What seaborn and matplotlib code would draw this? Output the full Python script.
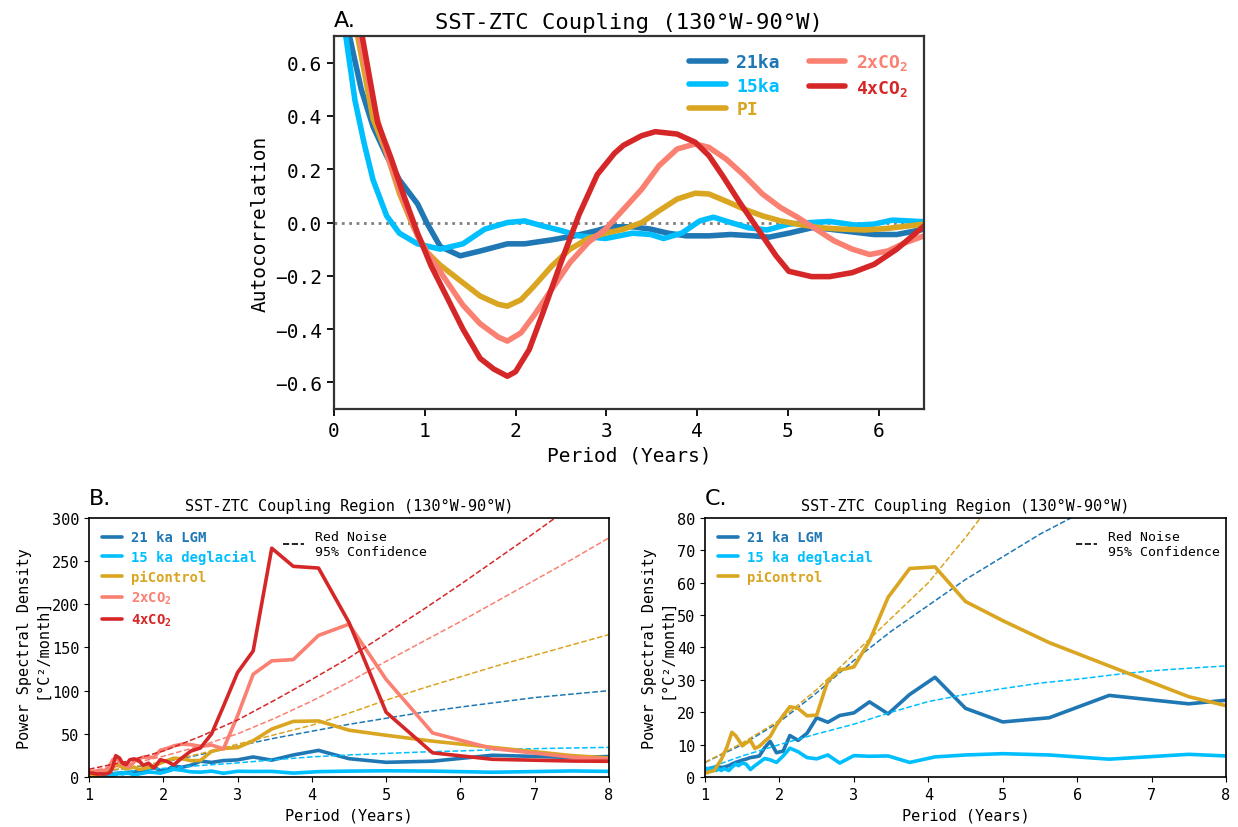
import numpy as np
import pandas as pd
import matplotlib
matplotlib.use("Agg")
import matplotlib.pyplot as plt
from matplotlib.lines import Line2D
import seaborn as sns

# ---- Panel A: autocorrelation (lag in years) ----
acf_21ka_x = [0, 0.08, 0.17, 0.3, 0.43, 0.58, 0.72, 0.92, 1.02, 1.17, 1.39, 1.61, 1.91, 2.1, 2.4,
              2.65, 2.9, 3.04, 3.29, 3.49, 3.68, 3.88, 4.13, 4.37, 4.62, 4.79, 5.01, 5.26, 5.46,
              5.7, 5.95, 6.2, 6.5]
acf_21ka_y = [1.0, 0.86, 0.70, 0.50, 0.36, 0.25, 0.16, 0.07, 0.0, -0.09, -0.125, -0.107, -0.08,
              -0.08, -0.065, -0.05, -0.03, -0.016, -0.016, -0.025, -0.04, -0.05, -0.05, -0.045,
              -0.05, -0.055, -0.04, -0.02, -0.025, -0.035, -0.045, -0.045, -0.025]

acf_15ka_x = [0, 0.07, 0.13, 0.23, 0.33, 0.43, 0.58, 0.72, 0.92, 1.17, 1.42, 1.66, 1.91, 2.1, 2.3,
              2.5, 2.7, 2.99, 3.29, 3.49, 3.63, 3.83, 4.03, 4.18, 4.37, 4.57, 4.77, 5.01, 5.26,
              5.46, 5.75, 5.95, 6.15, 6.5]
acf_15ka_y = [1.0, 0.85, 0.70, 0.46, 0.30, 0.16, 0.025, -0.04, -0.08, -0.10, -0.08, -0.025, 0.0,
              0.006, -0.013, -0.03, -0.05, -0.06, -0.04, -0.045, -0.06, -0.04, 0.006, 0.02, 0.0,
              -0.02, -0.028, -0.006, 0.0, 0.004, -0.01, -0.006, 0.009, 0.003]

acf_pi_x = [0, 0.1, 0.2, 0.26, 0.43, 0.58, 0.72, 0.87, 1.02, 1.17, 1.42, 1.61, 1.81, 1.91, 2.06,
            2.2, 2.4, 2.6, 2.8, 2.99, 3.19, 3.39, 3.58, 3.78, 3.98, 4.13, 4.32, 4.52, 4.72, 4.92,
            5.11, 5.36, 5.61, 5.85, 6.1, 6.5]
acf_pi_y = [1.0, 0.9, 0.77, 0.70, 0.39, 0.26, 0.11, -0.013, -0.11, -0.16, -0.226, -0.276, -0.307,
            -0.314, -0.29, -0.24, -0.163, -0.10, -0.06, -0.04, -0.025, 0.0, 0.044, 0.088, 0.11,
            0.107, 0.08, 0.05, 0.025, 0.006, -0.006, -0.02, -0.025, -0.028, -0.022, -0.006]

acf_2x_x = [0, 0.15, 0.28, 0.45, 0.6, 0.77, 0.92, 1.02, 1.22, 1.42, 1.61, 1.81, 1.91, 2.06, 2.2,
            2.4, 2.6, 2.8, 2.99, 3.19, 3.39, 3.58, 3.78, 3.98, 4.13, 4.32, 4.52, 4.72, 4.92, 5.11,
            5.31, 5.51, 5.71, 5.9, 6.1, 6.3, 6.5]
acf_2x_y = [1.0, 0.88, 0.70, 0.42, 0.24, 0.08, -0.05, -0.11, -0.21, -0.31, -0.38, -0.43, -0.445,
            -0.414, -0.35, -0.25, -0.15, -0.075, -0.025, 0.05, 0.125, 0.213, 0.276, 0.295, 0.282,
            0.238, 0.176, 0.107, 0.056, 0.019, -0.025, -0.069, -0.10, -0.12, -0.107, -0.075, -0.05]

acf_4x_x = [0, 0.15, 0.31, 0.48, 0.63, 0.77, 0.92, 1.07, 1.22, 1.42, 1.61, 1.76, 1.91, 2.0, 2.15,
            2.3, 2.5, 2.7, 2.9, 3.09, 3.19, 3.39, 3.54, 3.78, 3.98, 4.13, 4.28, 4.47, 4.67, 4.87,
            5.01, 5.26, 5.46, 5.71, 5.95, 6.2, 6.5]
acf_4x_y = [1.0, 0.88, 0.70, 0.376, 0.24, 0.10, -0.04, -0.163, -0.264, -0.40, -0.51, -0.55, -0.577,
            -0.56, -0.477, -0.34, -0.15, 0.03, 0.18, 0.26, 0.29, 0.326, 0.341, 0.332, 0.301, 0.251,
            0.176, 0.075, -0.025, -0.125, -0.183, -0.203, -0.203, -0.188, -0.157, -0.10, -0.013]

# ---- Panels B/C: power spectra (period in years) ----
periods = [9.0, 7.5, 6.43, 5.625, 5.0, 4.5, 4.09, 3.75, 3.46, 3.21, 3.0, 2.81, 2.65, 2.5, 2.37,
           2.25, 2.14, 2.05, 1.96, 1.875, 1.8, 1.73, 1.67, 1.61, 1.55, 1.5, 1.45, 1.41, 1.36,
           1.32, 1.29, 1.25, 1.22, 1.18, 1.15, 1.125, 1.1, 1.07, 1.05, 1.02, 1.0]
psd_21ka = [25.9, 22.6, 25.2, 18.3, 17.0, 21.2, 30.8, 25.5, 19.5, 23.2, 19.8, 19.0, 16.9, 18.3, 13.5,
            11.3, 12.8, 8.0, 7.5, 11.0, 9.0, 6.5, 6.2, 6.0, 5.5, 5.2, 4.8, 4.5, 4.0,
            3.5, 3.3, 3.0, 3.0, 3.0, 3.0, 2.8, 2.8, 2.7, 2.6, 2.5, 2.5]
psd_15ka = [5.5, 7.0, 5.5, 6.8, 7.2, 6.8, 6.2, 4.5, 6.5, 6.4, 6.6, 4.3, 6.8, 5.6, 6.0,
            7.8, 8.9, 6.5, 4.5, 5.3, 5.7, 4.5, 3.5, 2.3, 4.0, 4.3, 3.5, 4.0, 3.0,
            2.0, 2.3, 2.6, 2.0, 2.5, 2.0, 2.2, 2.5, 2.3, 2.5, 2.6, 2.7]
psd_pi = [16.5, 24.8, 34.3, 41.5, 48.3, 54.2, 64.9, 64.4, 55.5, 42.0, 34.0, 33.0, 29.7, 19.1, 18.9,
          21.2, 21.7, 19.0, 16.0, 12.5, 11.0, 9.5, 8.8, 11.3, 10.5, 9.6, 11.5, 12.8, 13.8,
          11.0, 9.0, 7.0, 5.5, 4.0, 3.0, 2.0, 1.8, 1.7, 1.5, 1.3, 1.3]
psd_2x = [17.0, 23.0, 33.0, 51.0, 113.0, 177.0, 164.0, 136.0, 134.5, 119.0, 71.0, 32.5, 37.0, 35.5, 37.5,
          38.0, 36.0, 33.0, 31.0, 23.0, 22.5, 23.0, 21.0, 18.0, 12.0, 13.0, 15.0, 18.0, 22.0,
          20.0, 15.0, 10.0, 8.0, 7.0, 7.0, 7.0, 7.0, 6.5, 6.0, 6.0, 6.0]
psd_4x = [17.5, 18.5, 20.5, 28.0, 75.0, 179.0, 242.0, 244.0, 265.0, 146.0, 121.0, 82.0, 50.0, 33.6, 30.0,
          22.0, 14.0, 18.0, 20.0, 10.4, 16.0, 13.5, 19.0, 21.0, 20.0, 14.3, 16.0, 22.0, 24.7,
          12.0, 6.0, 4.0, 3.5, 3.5, 3.5, 3.5, 3.5, 4.0, 4.5, 4.6, 4.6]

# red-noise 95% confidence curves
rn_periods = [1, 1.5, 2, 2.5, 3, 3.5, 4, 4.5, 5, 5.5, 6, 6.5, 7, 7.5, 8]
rn_21ka = [4.5, 10, 17, 26, 36, 45, 53, 61, 68, 75, 81, 86.5, 92, 96, 100]
rn_15ka = [2.4, 6.5, 10, 13.3, 16.3, 20, 23.3, 25.5, 27.3, 29, 30.2, 31.6, 32.8, 33.6, 34.3]
rn_pi = [4.5, 10.5, 17.5, 27, 38, 49, 60, 74, 89, 103, 116, 129, 141, 153, 165]
rn_2x = [7, 14, 24, 36, 50, 68, 88, 110, 134, 157, 180, 204, 228, 252, 277]
rn_4x = [9, 18, 30, 47, 66, 89, 113, 138, 166, 194, 223, 253, 283, 314, 345]

c21 = '#1f77b4'
c15 = '#00bfff'
cpi = '#daa520'
c2x = '#fa8072'
c4x = '#d62728'

sns.set_style('ticks')
plt.rcParams['font.family'] = ['DejaVu Sans Mono', 'DejaVu Sans']
plt.rcParams['mathtext.default'] = 'regular'
for key in ['text.color', 'axes.labelcolor', 'xtick.color', 'ytick.color', 'axes.edgecolor']:
    plt.rcParams[key] = 'black'

fig = plt.figure(figsize=(12.38, 8.28), dpi=100)

# ---------------- Panel A ----------------
axA = fig.add_axes([0.2698, 0.5048, 0.4766, 0.4505])
acf_series = [('21ka', acf_21ka_x, acf_21ka_y, c21),
              ('15ka', acf_15ka_x, acf_15ka_y, c15),
              ('PI', acf_pi_x, acf_pi_y, cpi),
              ('2xCO$_2$', acf_2x_x, acf_2x_y, c2x),
              ('4xCO$_2$', acf_4x_x, acf_4x_y, c4x)]
axA.plot([0, 6.5], [0, 0], color='grey', linestyle=':', linewidth=2)
handlesA = []
for name, xs, ys, col in acf_series:
    df = pd.DataFrame({'lag': xs, 'acf': ys})
    sns.lineplot(data=df, x='lag', y='acf', ax=axA, color=col, linewidth=4,
                 estimator=None, sort=False)
    handlesA.append(Line2D([], [], color=col, linewidth=4, label=name))
axA.set_xlim(0, 6.5)
axA.set_ylim(-0.7, 0.7)
axA.set_xticks(range(0, 7))
axA.set_yticks(np.round(np.arange(-0.6, 0.61, 0.2), 1))
axA.tick_params(labelsize=14, width=1.3, length=5)
axA.set_xlabel('Period (Years)', fontsize=14)
axA.set_ylabel('Autocorrelation', fontsize=14)
axA.set_title('SST-ZTC Coupling (130°W-90°W)', fontsize=16, pad=6)
for s in axA.spines.values():
    s.set_visible(True)
    s.set_linewidth(1.6)
    s.set_color('#333333')
leg = axA.legend(handles=handlesA, loc='upper right', ncol=2, frameon=False,
                 prop={'size': 13, 'weight': 'bold', 'family': 'DejaVu Sans Mono'},
                 handlelength=2.0, columnspacing=1.6, handletextpad=0.6,
                 borderaxespad=0.5, labelspacing=0.3)
for t, (name, xs, ys, col) in zip(leg.get_texts(), acf_series):
    t.set_color(col)
axA.text(0.0, 1.015, 'A.', transform=axA.transAxes, fontsize=16,
         family='DejaVu Sans', ha='left', va='bottom')


def spectrum_panel(ax, series, rn_series, ymax, yticks, letter, rn_x):
    for name, vals, rn_vals, col in zip([s[0] for s in series], [s[1] for s in series],
                                        rn_series, [s[2] for s in series]):
        df = pd.DataFrame({'period': periods, 'psd': vals})
        sns.lineplot(data=df, x='period', y='psd', ax=ax, color=col, linewidth=2.6,
                     estimator=None)
        dn = pd.DataFrame({'period': rn_periods, 'psd': rn_vals})
        sns.lineplot(data=dn, x='period', y='psd', ax=ax, color=col, linewidth=1.1,
                     linestyle='--', estimator=None)
    ax.set_xlim(1, 8)
    ax.set_ylim(0, ymax)
    ax.set_yticks(yticks)
    ax.tick_params(labelsize=11)
    ax.set_xlabel('Period (Years)', fontsize=11)
    ax.set_ylabel('Power Spectral Density\n[°C²/month]', fontsize=11, labelpad=2)
    ax.set_title('SST-ZTC Coupling Region (130°W-90°W)', fontsize=11, pad=6)
    for s in ax.spines.values():
        s.set_visible(True)
        s.set_linewidth(1.2)
        s.set_color('black')
    hs = [Line2D([], [], color=s[2], linewidth=2.6, label=s[0]) for s in series]
    lg = ax.legend(handles=hs, loc='upper left', frameon=False,
                   prop={'size': 10, 'weight': 'bold', 'family': 'DejaVu Sans Mono'},
                   handlelength=1.5, handletextpad=0.6, labelspacing=0.4,
                   borderaxespad=0.5)
    for t, s in zip(lg.get_texts(), series):
        t.set_color(s[2])
    ax.add_artist(lg)
    rh = Line2D([], [], color='black', linestyle='--', linewidth=1.2,
                label='Red Noise\n95% Confidence')
    ax.legend(handles=[rh], loc='upper left', bbox_to_anchor=(rn_x, 1.0), frameon=False,
              fontsize=9.5, handlelength=1.6, handletextpad=0.8, borderaxespad=0.5)
    ax.text(-0.0, 1.04, letter, transform=ax.transAxes, fontsize=16,
            family='DejaVu Sans', ha='left', va='bottom')


# ---------------- Panel B ----------------
axB = fig.add_axes([0.0719, 0.0604, 0.4200, 0.3128])
seriesB = [('21 ka LGM', psd_21ka, c21), ('15 ka deglacial', psd_15ka, c15),
           ('piControl', psd_pi, cpi), ('2xCO$_2$', psd_2x, c2x), ('4xCO$_2$', psd_4x, c4x)]
spectrum_panel(axB, seriesB, [rn_21ka, rn_15ka, rn_pi, rn_2x, rn_4x], 300,
               range(0, 301, 50), 'B.', 0.35)

# ---------------- Panel C ----------------
axC = fig.add_axes([0.5695, 0.0604, 0.4208, 0.3128])
seriesC = [('21 ka LGM', psd_21ka, c21), ('15 ka deglacial', psd_15ka, c15),
           ('piControl', psd_pi, cpi)]
spectrum_panel(axC, seriesC, [rn_21ka, rn_15ka, rn_pi], 80,
               range(0, 81, 10), 'C.', 0.69)

fig.savefig('out.png', dpi=100)
